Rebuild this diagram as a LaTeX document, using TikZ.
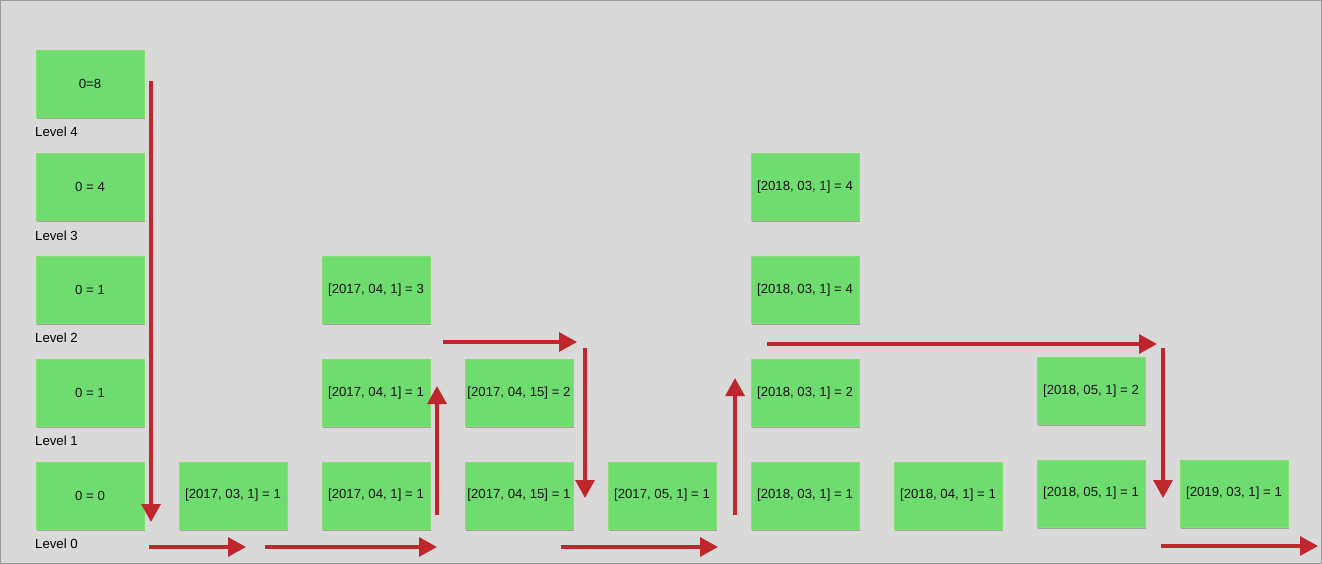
\documentclass[tikz,border=0pt]{standalone}
\usepackage{fontspec}
\setmainfont{Liberation Sans}
\usetikzlibrary{arrows.meta,shadows}
\definecolor{bg}{HTML}{D9D9D9}
\definecolor{frame}{HTML}{9A9A9A}
\definecolor{boxfill}{HTML}{6EDC6E}
\definecolor{boxline}{HTML}{86DE6E}
\definecolor{arr}{HTML}{C0272D}
\tikzset{
  box/.style={draw=boxline, line width=0.8pt, fill=boxfill, minimum width=108pt, minimum height=67pt, inner sep=0pt,
    font=\fontsize{13.2}{15}\selectfont, text=black!92,
    drop shadow={shadow xshift=0.8pt, shadow yshift=-1.8pt, opacity=0.4, fill=black!70}},
  lvl/.style={anchor=west, font=\fontsize{13.2}{15}\selectfont, text=black, inner sep=0pt},
  flow/.style={draw=arr, line width=3.2pt, -{Triangle[length=18pt,width=19pt]}}
}
\begin{document}
\begin{tikzpicture}[x=1pt,y=-1pt]
\fill[bg] (0,0) rectangle (1322,564);
\draw[frame, line width=1.2pt] (0.6,0.6) rectangle (1321.4,563.4);
\useasboundingbox (0,0) rectangle (1322,564);
% column 1
\node[box] (a4) at (90,83.5) {0=8};
\node[box] (a3) at (90,187) {0 = 4};
\node[box] (a2) at (90,290) {0 = 1};
\node[box] (a1) at (90,393) {0 = 1};
\node[box] (a0) at (90,495.5) {0 = 0};
% labels
\node[lvl] (l4) at (35,132) {Level 4};
\node[lvl] (l3) at (35,236) {Level 3};
\node[lvl] (l2) at (35,338) {Level 2};
\node[lvl] (l1) at (35,441) {Level 1};
\node[lvl] (l0) at (35,544) {Level 0};
% other columns
\node[box] (b0) at (233,495.5) {[2017, 03, 1] = 1};
\node[box] (c2) at (376,290) {[2017, 04, 1] = 3};
\node[box] (c1) at (376,393) {[2017, 04, 1] = 1};
\node[box] (c0) at (376,495.5) {[2017, 04, 1] = 1};
\node[box] (d1) at (519,393) {[2017, 04, 15] = 2};
\node[box] (d0) at (519,495.5) {[2017, 04, 15] = 1};
\node[box] (e0) at (662,495.5) {[2017, 05, 1] = 1};
\node[box] (f3) at (805,187) {[2018, 03, 1] = 4};
\node[box] (f2) at (805,290) {[2018, 03, 1] = 4};
\node[box] (f1) at (805,393) {[2018, 03, 1] = 2};
\node[box] (f0) at (805,495.5) {[2018, 03, 1] = 1};
\node[box] (g0) at (948,495.5) {[2018, 04, 1] = 1};
\node[box] (h1) at (1091,391) {[2018, 05, 1] = 2};
\node[box] (h0) at (1091,493.5) {[2018, 05, 1] = 1};
\node[box] (i0) at (1234,493.5) {[2019, 03, 1] = 1};
% arrow end points
\coordinate (p1s) at (151,81);   \coordinate (p1e) at (151,522);
\coordinate (p2s) at (149,547);  \coordinate (p2e) at (246,547);
\coordinate (p3s) at (265,547);  \coordinate (p3e) at (437,547);
\coordinate (p4s) at (437,515);  \coordinate (p4e) at (437,386);
\coordinate (p5s) at (443,342);  \coordinate (p5e) at (577,342);
\coordinate (p6s) at (585,348);  \coordinate (p6e) at (585,498);
\coordinate (p7s) at (561,547);  \coordinate (p7e) at (718,547);
\coordinate (p8s) at (735,515);  \coordinate (p8e) at (735,378);
\coordinate (p9s) at (767,344);  \coordinate (p9e) at (1157,344);
\coordinate (p10s) at (1163,348); \coordinate (p10e) at (1163,498);
\coordinate (p11s) at (1161,546); \coordinate (p11e) at (1318,546);
\foreach \k in {1,...,11} {\draw[flow] (p\k s) -- (p\k e);}
\end{tikzpicture}
\end{document}
